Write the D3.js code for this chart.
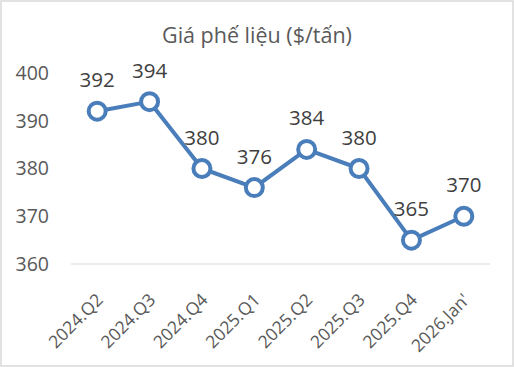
<!DOCTYPE html>
<html><head><meta charset="utf-8">
<script src="https://cdn.jsdelivr.net/npm/d3@7"></script>
<style>body{margin:0;background:#fff;font-family:"Open Sans","Noto Sans",sans-serif;}</style>
</head><body>
<svg id="c" width="514" height="367"></svg>
<script>
const categories = ["2024.Q2","2024.Q3","2024.Q4","2025.Q1","2025.Q2","2025.Q3","2025.Q4","2026.Jan'"];
const values = [392,394,380,376,384,380,365,370];
const yTicks = [360,370,380,390,400];
const title = "Giá phế liệu ($/tấn)";

const svg = d3.select("#c");
const W=514,H=367;
const textColor="#595959", lineColor="#4a7ebb";
const ff = "Open Sans, Noto Sans, sans-serif";
svg.append("rect").attr("x",1).attr("y",1).attr("width",W-2).attr("height",H-2)
  .attr("fill","#fff").attr("stroke","#d9d9d9").attr("stroke-width",1.5);
svg.append("text").attr("x",257).attr("y",43).attr("text-anchor","middle")
  .attr("font-size",21.5).attr("fill",textColor).text(title);

const x = d3.scaleBand().domain(categories).range([71,490]);
const y = d3.scaleLinear().domain([360,400]).range([264,73]);

const yAxis = svg.append("g").attr("transform","translate(71,0)")
  .call(d3.axisLeft(y).tickValues(yTicks).tickSize(0).tickPadding(22));
yAxis.select(".domain").remove();
yAxis.selectAll("text").attr("font-size",19.5).attr("fill",textColor).attr("font-family",ff);

svg.append("line").attr("x1",71).attr("x2",490).attr("y1",y(360)).attr("y2",y(360))
  .attr("stroke","#d9d9d9").attr("stroke-width",1.2);

const xAxis = svg.append("g").attr("transform",`translate(0,${y(360)})`)
  .call(d3.axisBottom(x).tickSize(0).tickPadding(0));
xAxis.select(".domain").remove();
xAxis.selectAll("text").attr("font-size",17.5).attr("fill",textColor)
  .attr("font-family",ff)
  .attr("text-anchor","end").attr("dy",0)
  .attr("transform","translate(7,37) rotate(-45)");

const cx = d=>x(d)+x.bandwidth()/2;
const data = categories.map((c,i)=>({c,v:values[i]}));
svg.append("path").datum(data)
  .attr("d",d3.line().x(d=>cx(d.c)).y(d=>y(d.v)))
  .attr("fill","none").attr("stroke",lineColor).attr("stroke-width",4).attr("stroke-linejoin","round");
svg.selectAll("circle.m").data(data).join("circle")
  .attr("cx",d=>cx(d.c)).attr("cy",d=>y(d.v)).attr("r",8.5)
  .attr("fill","#fff").attr("stroke",lineColor).attr("stroke-width",4);
svg.selectAll("text.lbl").data(data).join("text").attr("class","lbl")
  .attr("x",d=>cx(d.c)).attr("y",d=>y(d.v)-24).attr("text-anchor","middle")
  .attr("font-size",20.5).attr("fill","#404040").text(d=>d.v);
</script>
</body></html>
